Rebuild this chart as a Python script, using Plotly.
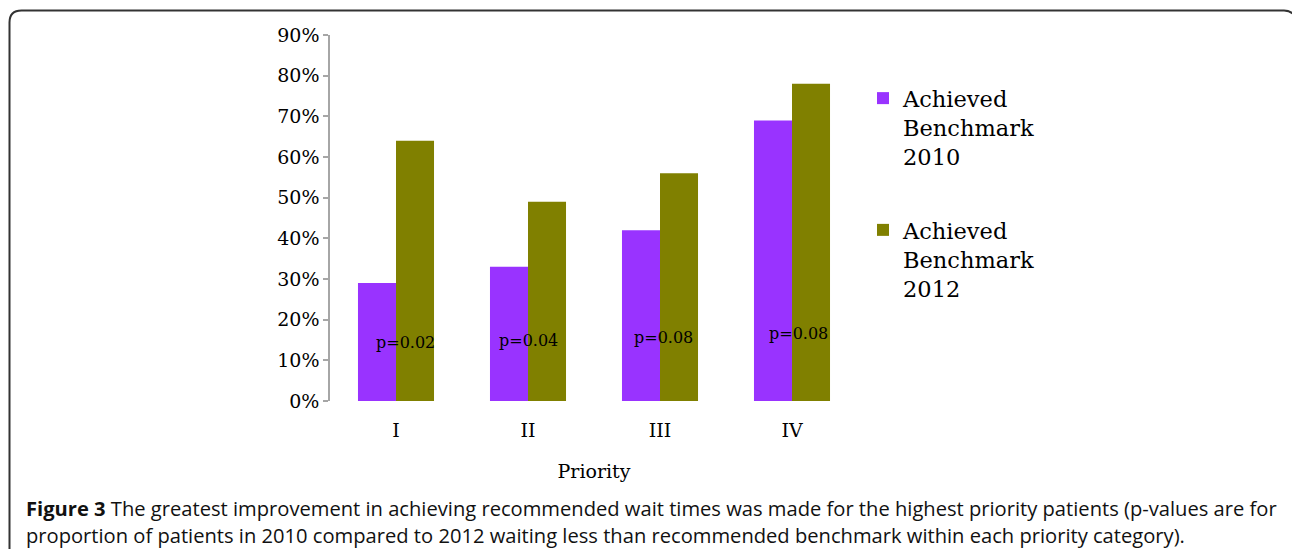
import plotly.graph_objects as go

# ---- data ----
categories = ["I", "II", "III", "IV"]
achieved_2010 = [29, 33, 42, 69]
achieved_2012 = [64, 49, 56, 78]
series_names = ["Achieved<br>Benchmark<br>2010", "Achieved<br>Benchmark<br>2012"]
p_labels = ["p=0.02", "p=0.04", "p=0.08", "p=0.08"]
y_ticks = [0, 10, 20, 30, 40, 50, 60, 70, 80, 90]
y_tick_text = [f"{v}%" for v in y_ticks]
caption_line1 = ("<b>Figure 3</b> The greatest improvement in achieving recommended wait times "
                 "was made for the highest priority patients (p-values are for")
caption_line2 = ("proportion of patients in 2010 compared to 2012 waiting less than recommended "
                 "benchmark within each priority category).")

# ---- layout geometry (pixels) ----
W, H = 1292, 549
ML, MR, MT, MB = 330, 434, 35, 148
PW, PH = W - ML - MR, H - MT - MB

def px(x):
    return (x - ML) / PW

def py(y):
    return (H - MB - y) / PH

# annotation placement (style): y level and pixel x-offset for each p label
p_label_y = [14.3, 14.8, 15.5, 16.5]
p_label_dx = [9, 0, 3, 6]

PURPLE = "#9933FF"
OLIVE = "#808000"
SERIF = "DejaVu Serif"
CAPTION_FONT = dict(family="Open Sans", size=20.15, color="#111111")

fig = go.Figure()
fig.add_trace(go.Bar(x=categories, y=achieved_2010, name=series_names[0],
                     marker=dict(color=PURPLE, line=dict(width=0)), legendgroup="a"))
fig.add_trace(go.Bar(x=categories, y=achieved_2012, name=series_names[1],
                     marker=dict(color=OLIVE, line=dict(width=0)), legendgroup="b"))

for cat, lab, yy, dx in zip(categories, p_labels, p_label_y, p_label_dx):
    fig.add_annotation(x=cat, y=yy, text=lab, showarrow=False, xshift=dx,
                       font=dict(family=SERIF, size=16, color="black"))

fig.add_annotation(xref="paper", yref="paper", x=px(24), y=py(508), text=caption_line1,
                   showarrow=False, xanchor="left", yanchor="middle", font=CAPTION_FONT)
fig.add_annotation(xref="paper", yref="paper", x=px(24), y=py(535), text=caption_line2,
                   showarrow=False, xanchor="left", yanchor="middle", font=CAPTION_FONT)

# rounded frame
r = 12
path = (f"M {px(9.5)},{py(600)} L {px(9.5)},{py(10.5 + r)} "
        f"Q {px(9.5)},{py(10.5)} {px(9.5 + r)},{py(10.5)} "
        f"L {px(1284)},{py(10.5)} Q {px(1294)},{py(10.5)} {px(1298)},{py(22)} "
        f"L {px(1298)},{py(600)}")
fig.add_shape(type="path", xref="paper", yref="paper", path=path,
              line=dict(color="#333333", width=2))

fig.update_layout(
    width=W, height=H,
    margin=dict(l=ML, r=MR, t=MT, b=MB),
    paper_bgcolor="white", plot_bgcolor="white",
    barmode="group", bargap=0.424, bargroupgap=0,
    font=dict(family=SERIF, color="black"),
    legend=dict(x=px(863), y=py(77), xanchor="left", yanchor="top",
                font=dict(family=SERIF, size=22.5, color="black"),
                traceorder="grouped", tracegroupgap=41, valign="top",
                bgcolor="rgba(0,0,0,0)"),
    showlegend=True,
)
fig.update_xaxes(showline=False, ticks="", showgrid=False,
                 tickfont=dict(family=SERIF, size=19, color="black"),
                 ticklabelstandoff=16,
                 title=dict(text="Priority", font=dict(family=SERIF, size=19, color="black"),
                            standoff=24))
fig.update_yaxes(range=[0, 90], tickvals=y_ticks, ticktext=y_tick_text,
                 showline=True, linecolor="#a6a6a6", linewidth=1.5,
                 ticks="outside", ticklen=5, tickcolor="#a6a6a6", tickwidth=1.5,
                 showgrid=False, zeroline=False,
                 tickfont=dict(family=SERIF, size=19, color="black"))

fig.write_html("out.html", config={"displayModeBar": False},
               post_script="document.body.style.margin='0';")
